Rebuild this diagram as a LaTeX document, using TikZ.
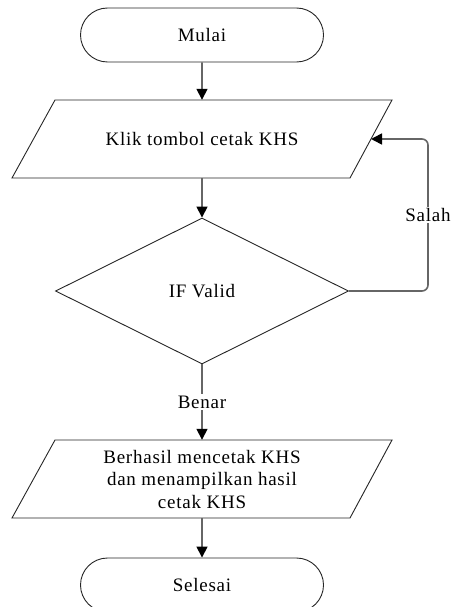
\documentclass[tikz,border=0pt]{standalone}
\usepackage{fontspec}
\setmainfont[LetterSpace=4]{Liberation Serif}
\usetikzlibrary{shapes.geometric,shapes.misc,arrows.meta,calc}
\begin{document}
\begin{tikzpicture}[x=1pt,y=-1pt,
  every node/.style={font=\fontsize{19}{22.5}\selectfont, text=black},
  outline/.style={draw=black!85, line width=0.9pt},
  term/.style={rounded rectangle, outline, minimum width=243pt, minimum height=54pt, inner sep=0pt},
  iobox/.style={rectangle, minimum width=337pt, minimum height=78pt, inner sep=0pt, align=center},
  decide/.style={diamond, outline, minimum width=293pt, minimum height=146pt, inner sep=0pt, aspect=2},
  conn/.style={draw=black!60, line width=1.6pt, -{Triangle[length=11pt,width=11pt,color=black]}},
  lbl/.style={fill=white, inner sep=1.5pt}]
\useasboundingbox (0,0) rectangle (451,607);
\node[term] (start) at (202,35) {Mulai};
\node[iobox] (p1) at (202,139) {Klik tombol cetak KHS};
\draw[outline] ($(p1)+(-190,39)$) -- ($(p1)+(148,39)$) -- ($(p1)+(190,-39)$) -- ($(p1)+(-147,-39)$) -- cycle;
\node[decide] (d) at (202,291) {IF Valid};
\node[iobox] (p2) at (202,479) {Berhasil mencetak KHS\\dan menampilkan hasil\\cetak KHS};
\draw[outline] ($(p2)+(-190,39)$) -- ($(p2)+(148,39)$) -- ($(p2)+(190,-39)$) -- ($(p2)+(-147,-39)$) -- cycle;
\node[term] (end) at (202,585) {Selesai};
\coordinate (p1e) at ($(p1)+(169,0)$);
\coordinate (r1) at (428,291);
\coordinate (r2) at (428,139);
\draw[conn] (start) -- (p1.north);
\draw[conn] (p1.south) -- (d);
\draw[conn] (d) -- node[lbl] (benar) {Benar} (p2.north);
\draw[conn] (p2.south) -- (end);
\draw[conn, rounded corners=6pt] (d.east) -- (r1) -- (r2) -- (p1e);
\node[lbl] (salah) at (428,215) {Salah};
\end{tikzpicture}
\end{document}
